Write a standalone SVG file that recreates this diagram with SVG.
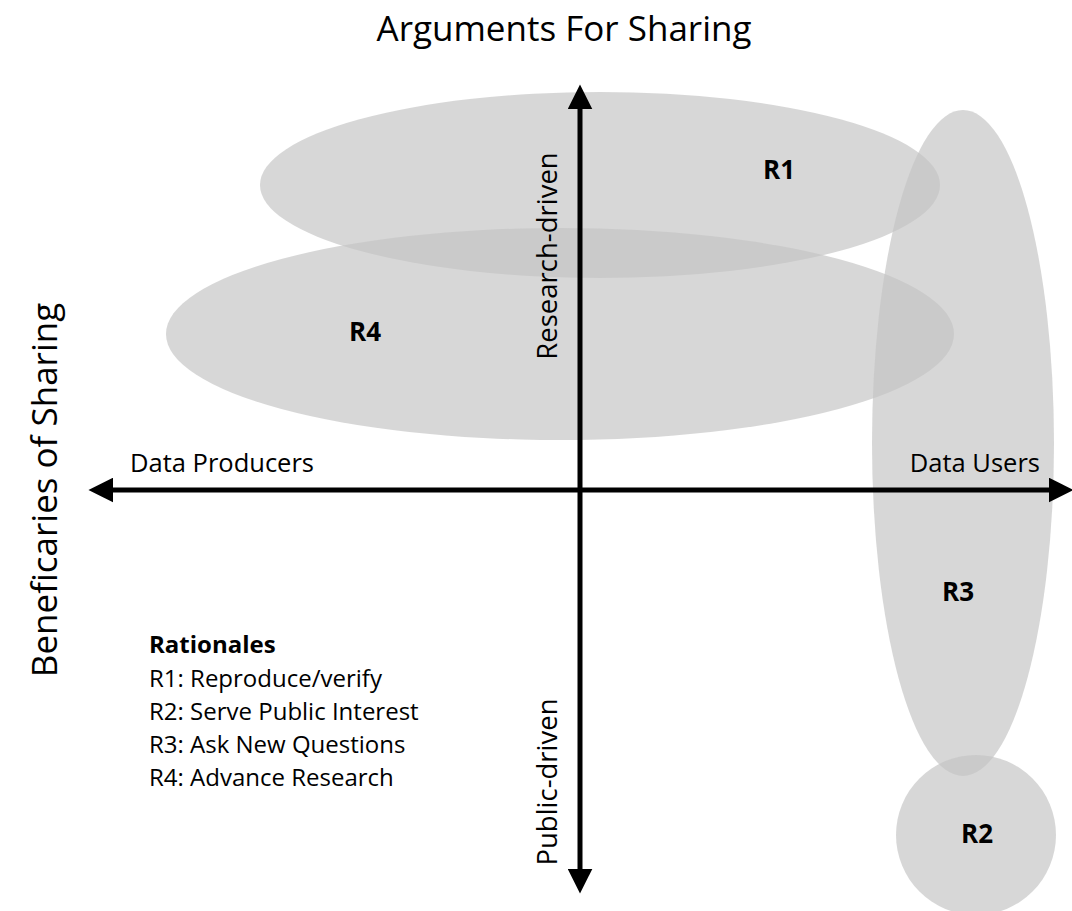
<svg xmlns="http://www.w3.org/2000/svg" width="1072" height="911" viewBox="0 0 1072 911">
<style>
.blob{fill:#c4c4c4;fill-opacity:0.68}
.t{font-family:"Open Sans","Liberation Sans",sans-serif;fill:#000}
.ax{stroke:#000;stroke-width:5;fill:none}
.lbl{font-family:"Open Sans","Liberation Sans",sans-serif;font-weight:bold;font-size:26px;text-anchor:middle}
</style>
<defs>
<marker id="ah" markerWidth="5" markerHeight="5" refX="0.6" refY="2.2" orient="auto" markerUnits="strokeWidth" viewBox="0 0 4.4 4.4">
<path d="M0,0 L4.4,2.2 L0,4.4 z" fill="#000"/>
</marker>
</defs>
<rect width="1072" height="911" fill="#fff"/>
<g id="R1"><ellipse class="blob" cx="600" cy="185" rx="340" ry="93"/></g>
<g id="R4"><ellipse class="blob" cx="560" cy="334" rx="394" ry="106"/></g>
<g id="R3"><ellipse class="blob" cx="963" cy="443" rx="91" ry="333"/></g>
<g id="R2"><circle class="blob" cx="976" cy="835" r="80"/></g>
<g id="connectors">
<line class="ax" x1="580" y1="492" x2="580" y2="106" marker-end="url(#ah)"/>
<line class="ax" x1="580" y1="488" x2="580" y2="872" marker-end="url(#ah)"/>
<line class="ax" x1="582" y1="490" x2="110" y2="490" marker-end="url(#ah)"/>
<line class="ax" x1="578" y1="490" x2="1052" y2="490" marker-end="url(#ah)"/>
</g>
<g id="labels">
<text class="lbl" x="779" y="179">R1</text>
<text class="lbl" x="365" y="341">R4</text>
<text class="lbl" x="958" y="601">R3</text>
<text class="lbl" x="977" y="843">R2</text>
</g>
<text class="t" x="564" y="41" font-size="35" text-anchor="middle">Arguments For Sharing</text>
<text class="t" transform="translate(57,490) rotate(-90)" font-size="35" text-anchor="middle">Beneficaries of Sharing</text>
<text class="t" transform="translate(557,256) rotate(-90)" font-size="27.5" text-anchor="middle">Research-driven</text>
<text class="t" transform="translate(557,782) rotate(-90)" font-size="27.5" text-anchor="middle">Public-driven</text>
<text class="t" x="130" y="472" font-size="25.5">Data Producers</text>
<text class="t" x="1040" y="472" font-size="25.5" text-anchor="end">Data Users</text>
<g id="legend" class="t" font-size="24">
<text x="149" y="653" font-weight="bold">Rationales</text>
<text x="149" y="687">R1: Reproduce/verify</text>
<text x="149" y="720">R2: Serve Public Interest</text>
<text x="149" y="753">R3: Ask New Questions</text>
<text x="149" y="786">R4: Advance Research</text>
</g>
</svg>
